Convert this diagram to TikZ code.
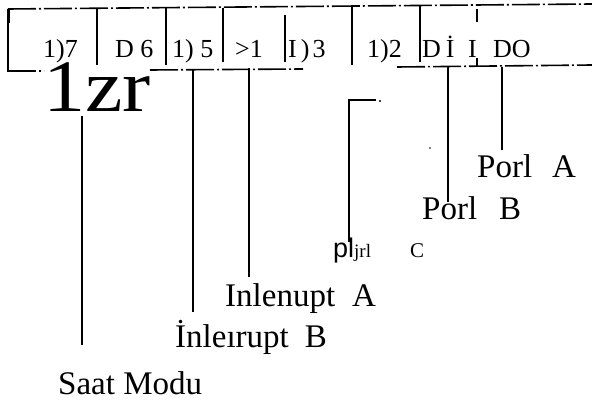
\documentclass[tikz,border=0pt]{standalone}
\usepackage{graphicx}
\usepackage{fontspec}
\setmainfont{Liberation Serif}
\newfontfamily\lsans{Liberation Sans}
\begin{document}
\begin{tikzpicture}[x=1pt,y=-1pt,
  reg/.style={font=\fontsize{26}{26}\selectfont, anchor=base west, inner sep=0pt, text depth=0pt},
  lab/.style={font=\fontsize{33}{33}\selectfont, anchor=base west, inner sep=0pt},
  sep/.style={line width=1.9pt},
  con/.style={line width=2.2pt},
  border/.style={line width=1.6pt, dash pattern=on 28pt off 3pt on 2pt off 3pt}]
\useasboundingbox (0,0) rectangle (592,403);

% register borders
\draw[border] (8,9) -- (592,4);
\draw[border] (8,71) -- (44,71);
\draw[border] (150,70) -- (303,69);
\draw[border] (397,67) -- (592,65);

% separators
\draw[sep] (8,9) -- (8,72);
\draw[line width=3pt] (8,9) -- (8,23);
\draw[sep] (97,8) -- (97,65);
\draw[sep] (166,8) -- (166,65);
\draw[sep] (223,8) -- (223,62);
\draw[sep] (285,15) -- (285,62);
\draw[sep] (352,5) -- (352,65);
\draw[sep] (420,5) -- (420,62);
\draw[line width=2.6pt] (477,9) -- (477,22);
\draw[sep] (477,58) -- (477,67);

% register bit texts
\node[reg] (b7) at (43,58) {1)7};
\node[reg] (b6) at (115,58) {D~6};
\node[reg] (b5) at (172,58) {1)~5};
\node[reg] (b4) at (235,58) {>1};
\node[reg] (b3) at (288,58) {I\hspace{4pt})\hspace{3pt}3};
\node[reg] (b2) at (367,58) {1)2};
\node[reg] (b1) at (422,58) {D\hspace{5pt}İ};
\node[reg] (b0a) at (468,58) {I};
\node[reg] (b0) at (493,58) {DO};

% big text
\node[font=\fontsize{74}{74}\selectfont, anchor=base west, inner sep=0pt, text height=49pt] (big) at (43,112) {\scalebox{1.14}[1]{1zr}};

% labels
\node[lab] (saat) at (58,395) {Saat Modu};
\node[lab] (intb) at (175,348) {İnleırupt\hspace{16pt}B};
\node[lab] (inta) at (225,307) {Inlenupt\hspace{17pt}A};
\node[anchor=base west, inner sep=0pt, font=\lsans\fontsize{27}{27}\selectfont] (portcp) at (333,258) {pl};
\node[anchor=base west, inner sep=0pt, font=\fontsize{19}{19}\selectfont] (portcj) at (354,258) {jrl};
\node[anchor=base west, inner sep=0pt, font=\fontsize{21}{21}\selectfont] (portcc) at (410,258) {C};
\node[lab] (portb) at (422,220) {Porl\hspace{22pt}B};
\node[lab] (porta) at (477,178) {Porl\hspace{20pt}A};

% connector end points
\coordinate (s1) at (82,116);  \coordinate (s2) at (82,345);
\coordinate (ib1) at (193,70); \coordinate (ib2) at (193,312);
\coordinate (ia1) at (249,68); \coordinate (ia2) at (249,277);
\coordinate (pc0) at (376,100); \coordinate (pc1) at (349,100); \coordinate (pc2) at (349,242);
\coordinate (pb1) at (448,67); \coordinate (pb2) at (448,202);
\coordinate (pa1) at (502,67); \coordinate (pa2) at (502,150);

\draw[con] (s1) -- (s2);
\draw[con] (ib1) -- (ib2);
\draw[con] (ia1) -- (ia2);
\draw[con] (pc0) -- (pc1) -- (pc2);
\draw[con] (pb1) -- (pb2);
\draw[con] (pa1) -- (pa2);

% specks
\fill (380,101) circle (1.2pt);
\fill (430,148) circle (0.9pt);
\end{tikzpicture}
\end{document}
